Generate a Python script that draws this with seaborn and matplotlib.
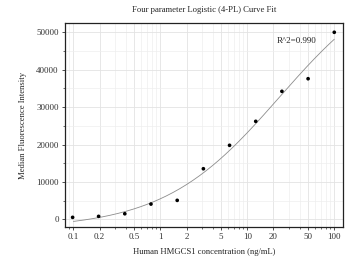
import numpy as np
import pandas as pd
import seaborn as sns
import matplotlib.pyplot as plt
from matplotlib.ticker import FixedLocator, LogLocator, NullFormatter, MultipleLocator

# standard curve
conc = [0.098, 0.195, 0.39, 0.78, 1.5625, 3.125, 6.25, 12.5, 25, 50, 100]
mfi = [535, 800, 1500, 4090, 5080, 13530, 19790, 26200, 34220, 37590, 50000]
xticks = [0.1, 0.2, 0.5, 1, 2, 5, 10, 20, 50, 100]
xticklabels = ['0.1', '0.2', '0.5', '1', '2', '5', '10', '20', '50', '100']
r2_text = 'R^2=0.990'

df = pd.DataFrame({'conc': conc, 'mfi': mfi})

# 4-PL fit: grid over slope b and midpoint c, bottom/top solved by least squares
x = np.array(conc)
y = np.array(mfi, dtype=float)
bs = np.linspace(0.3, 3, 271)[:, None, None]
cs = np.logspace(-1, 3, 401)[None, :, None]
s = 1 / (1 + (x / cs) ** bs)
sm = s.mean(axis=2, keepdims=True)
k = ((s - sm) * (y - y.mean())).sum(axis=2) / ((s - sm) ** 2).sum(axis=2)
d = y.mean() - k * sm[..., 0]
sse = ((y - (d[..., None] + k[..., None] * s)) ** 2).sum(axis=2)
i, j = np.unravel_index(np.argmin(sse), sse.shape)
b_fit, c_fit, k_fit, d_fit = bs[i, 0, 0], cs[0, j, 0], k[i, j], d[i, j]
xs = np.logspace(-1, 2, 200)
fit = pd.DataFrame({'conc': xs, 'mfi': d_fit + k_fit / (1 + (xs / c_fit) ** b_fit)})

sns.set_theme(style='ticks')
plt.rcParams['font.family'] = ['Liberation Serif', 'DejaVu Serif']

f, ax = plt.subplots(figsize=(3.5, 2.61), dpi=100)
f.subplots_adjust(left=0.186, right=0.98, top=0.912, bottom=0.130)

sns.lineplot(data=fit, x='conc', y='mfi', color='#8c8c8c', linewidth=0.6, ax=ax, zorder=2)
sns.scatterplot(data=df, x='conc', y='mfi', color='black', s=7, edgecolor='none', ax=ax, zorder=3)

ax.set_xscale('log')
ax.set_xlim(0.0803, 126)
ax.set_ylim(-2060, 52490)

ax.xaxis.set_major_locator(FixedLocator(xticks))
ax.set_xticklabels(xticklabels)
ax.xaxis.set_minor_locator(LogLocator(base=10, subs=np.arange(1, 10)))
ax.xaxis.set_minor_formatter(NullFormatter())
ax.yaxis.set_major_locator(MultipleLocator(10000))
ax.yaxis.set_minor_locator(MultipleLocator(5000))

ax.grid(which='major', color='#e3e3e3', linewidth=0.6)
ax.grid(which='minor', color='#eeeeee', linewidth=0.5)
ax.set_axisbelow(True)

for sp in ax.spines.values():
    sp.set_visible(True)
    sp.set_color('#222222')
    sp.set_linewidth(0.9)

ax.tick_params(which='major', length=2.5, width=0.6, labelsize=6.5, pad=2, colors='#333333')
ax.tick_params(which='minor', length=1.5, width=0.5, colors='#333333')

ax.set_xlabel('Human HMGCS1 concentration (ng/mL)', fontsize=6.2, labelpad=5)
ax.set_ylabel('Median Fluorescence Intensity', fontsize=6.2, labelpad=7)
ax.set_title('Four parameter Logistic (4-PL) Curve Fit', fontsize=6.2, pad=8)
ax.text(22, 47700, r2_text, fontsize=6.5, va='center', ha='left')

f.savefig('out.png', dpi=100)
